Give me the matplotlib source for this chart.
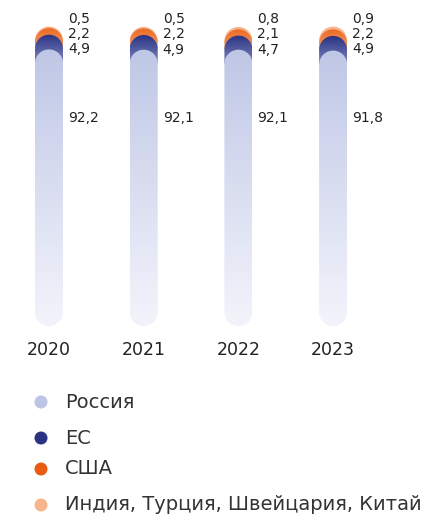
import matplotlib
matplotlib.use("Agg")
import matplotlib.pyplot as plt
import numpy as np
from matplotlib.path import Path
from matplotlib.patches import PathPatch, Ellipse
from matplotlib.colors import LinearSegmentedColormap

years = ["2020", "2021", "2022", "2023"]
russia = [92.2, 92.1, 92.1, 91.8]
eu = [4.9, 4.9, 4.7, 4.9]
usa = [2.2, 2.2, 2.1, 2.2]
other = [0.5, 0.5, 0.8, 0.9]
labels_legend = ["Россия", "ЕС", "США", "Индия, Турция, Швейцария, Китай"]
fmt = lambda v: f"{v:.1f}".replace(".", ",")

plt.rcParams['font.family'] = ['DejaVu Sans']
W, H = 430, 518
fig = plt.figure(figsize=(W / 100, H / 100), dpi=100)

spacing_px = 94.7
c0_px = 49
bw_px = 28
y0_px, y100_px = 326, 26
xl = (-c0_px / spacing_px, (W - c0_px) / spacing_px)
ax = fig.add_axes([0, (H - y0_px) / H, 1, (y0_px - y100_px) / H])
ax.set_xlim(*xl)
ax.set_ylim(0, 100)
ax.axis('off')

ppx = spacing_px
ppy = (y0_px - y100_px) / 100
rx = bw_px / 2 / ppx
ry = bw_px / 2 / ppy


def capsule(xc, bottom, top, round_bottom=True):
    t = np.linspace(0, np.pi, 40)
    top_arc = np.column_stack([xc + rx * np.cos(t), top - ry + ry * np.sin(t)])
    if round_bottom:
        bot = np.column_stack([xc - rx * np.cos(t), bottom + ry - ry * np.sin(t)])
    else:
        bot = np.array([[xc - rx, bottom], [xc + rx, bottom]])
    verts = np.vstack([top_arc, bot, top_arc[:1]])
    codes = [Path.MOVETO] + [Path.LINETO] * (len(verts) - 2) + [Path.CLOSEPOLY]
    return Path(verts, codes)


def grad_capsule(xc, bottom, top, c_top, c_bot, round_bottom=True):
    path = capsule(xc, bottom, top, round_bottom)
    patch = PathPatch(path, facecolor='none', edgecolor='none')
    ax.add_patch(patch)
    cmap = LinearSegmentedColormap.from_list('g', [c_bot, c_top])
    grad = np.linspace(0, 1, 256).reshape(-1, 1)
    im = ax.imshow(grad, cmap=cmap, origin='lower', aspect='auto',
                   extent=[xc - rx, xc + rx, bottom, top], interpolation='bicubic')
    im.set_clip_path(patch)


for i in range(len(years)):
    c1 = russia[i]
    c2 = c1 + eu[i]
    c3 = c2 + usa[i]
    c4 = c3 + other[i]
    grad_capsule(i, c3 - ry, c4, '#f7b58e', '#f7b58e', False)
    grad_capsule(i, c2 - ry, c3, '#ec6a22', '#f0a070', False)
    grad_capsule(i, c1 - ry, c2, '#2a3282', '#7f88c0', False)
    grad_capsule(i, 0, c1, '#bfc7e6', '#f3f4fb')
    tx = i + rx + 5 / ppx
    kw = dict(fontsize=10, color='#222222', va='center', ha='left')
    ax.text(tx, c4 + 2.6, fmt(other[i]), **kw)
    ax.text(tx, c4 - 2.5, fmt(usa[i]), **kw)
    ax.text(tx, c4 - 7.6, fmt(eu[i]), **kw)
    ax.text(tx, 69.3, fmt(russia[i]), **kw)
    ax.text(i, -8.0, years[i], fontsize=12.5, color='#222222', va='center', ha='center')

leg_colors = ['#bcc5e6', '#2a3282', '#ea5b14', '#f7b58e']
leg_y = [402, 438, 469, 505]
for lab, col, yp in zip(labels_legend, leg_colors, leg_y):
    fy = 1 - yp / H
    fig.patches.append(Ellipse((41 / W, fy), width=13 / W, height=13 / H,
                               transform=fig.transFigure, facecolor=col,
                               edgecolor='none'))
    fig.text(65 / W, fy, lab, fontsize=14, color='#333333', va='center', ha='left')

fig.savefig('out.png', dpi=100)
